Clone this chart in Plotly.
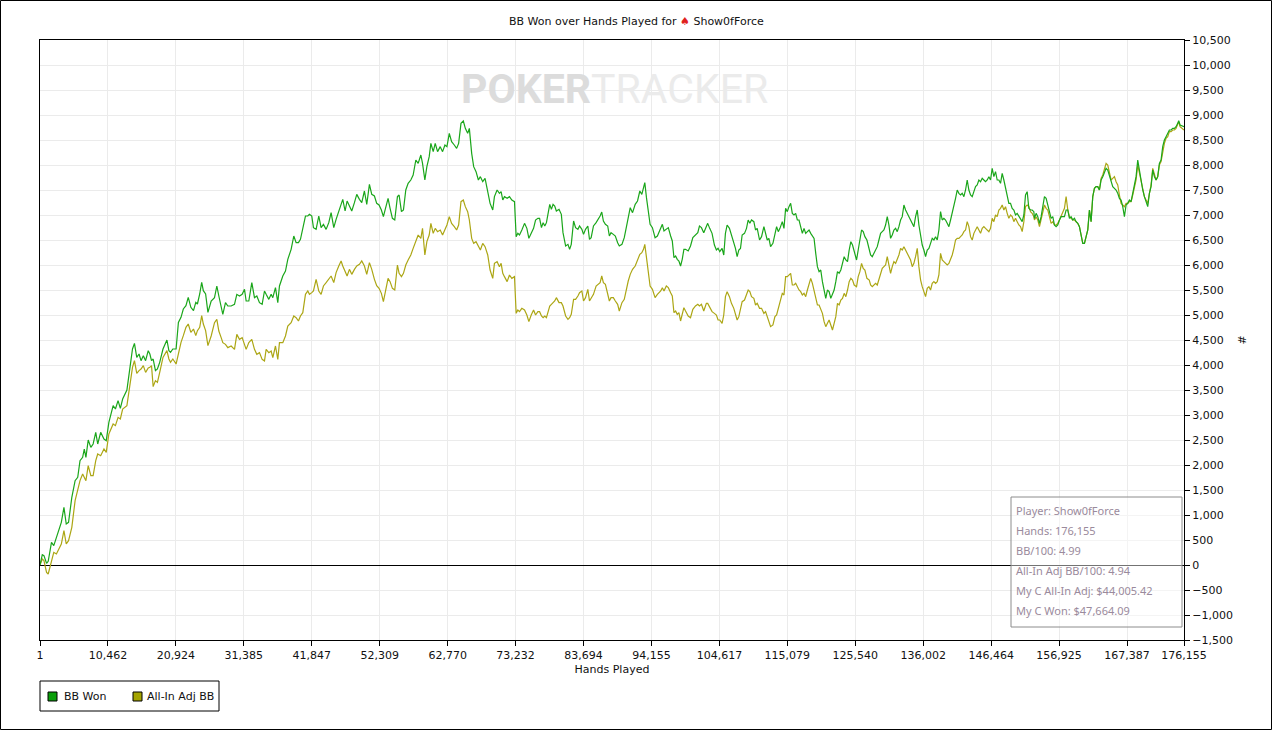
import plotly.graph_objects as go

# ---------------- data ----------------
HANDS = [
    1, 355, 607, 1011, 1264, 1769, 2122, 2526, 3284, 3688, 4041, 4395, 4900, 5405, 5809, 6162, 6566, 6819, 7071, 7425,
    7829, 8182, 8586, 8889, 9344, 9849, 10202, 10606, 11263, 11616, 12020, 12374, 12727, 13384, 13889, 14242, 14545, 14899, 15252, 15555,
    15909, 16262, 16666, 16919, 17171, 17424, 17777, 18080, 18434, 18939, 19545, 19848, 20100, 20454, 20959, 21312, 21716, 22070, 22474, 22827,
    23231, 23635, 23989, 24241, 24595, 24898, 25150, 25504, 25857,
    26358, 26871, 27230, 27537, 27897, 28153, 28563, 28923, 29436, 29949, 30308, 30718, 31129, 31488, 31744, 32155, 32616, 33027, 33386, 33796,
    34207, 34566, 34822, 35233, 35592, 35848, 36259, 36618, 36874, 37387, 37798, 38157, 38670, 39080, 39439, 39798, 40106, 40465, 40876, 41235,
    41491, 41850, 42107, 42517, 42928, 43287, 43646, 44056, 44467, 44826, 45236, 45595, 46006, 46365, 46621, 46980, 47288, 47647, 48006, 48417,
    48776, 49186, 49545, 49956, 50315, 50725, 51084, 51495,
    51846, 52206, 52567, 52876, 53236, 53597, 53906, 54266, 54627, 55039, 55296, 55657, 55966, 56326, 56687, 57099, 57459, 57871, 58232, 58644,
    58901, 59262, 59571, 59931, 60189, 60549, 60858, 61219, 61631, 61991, 62352, 62661, 63021, 63382, 63794, 64154, 64463, 64824, 65184, 65493,
    65854, 66111, 66472, 66781, 67141, 67502, 67811, 68171, 68532, 68944, 69304, 69716, 69974, 70386, 70746, 71004, 71261, 71519, 71931, 72291,
    72652, 73064, 73321, 73579, 73836, 74197, 74609, 74969, 75278, 75639, 75999, 76308, 76669, 76926,
    77217, 77472, 77727, 77982, 78237, 78492, 78747, 79002, 79257, 79512, 79920, 80277, 80532, 80940, 81297, 81552, 81807, 82164, 82470, 82827,
    83082, 83439, 83694, 84000, 84357, 84612, 84867, 85224, 85632, 85989, 86244, 86499, 86754, 87060, 87417, 87672, 87927, 88284, 88590, 88947,
    89202, 89610, 89967, 90222, 90579, 90885, 91242, 91650, 92007, 92364, 92670, 92925, 93129, 93384, 93690, 93945, 94302, 94710, 95067, 95322,
    95577, 95832, 96087, 96444, 96750, 97107, 97362, 97617, 97872, 98127, 98382, 98637, 98892, 99147, 99402, 99810, 100167, 100524, 100932, 101289,
    101544, 101850, 102207,
    102609, 102814, 103124, 103484, 103845, 104153, 104411, 104669, 105029, 105287, 105544, 105802, 106162, 106471, 106832, 107089, 107347, 107604, 107862, 108119,
    108480, 108789, 109046, 109304, 109561, 109922, 110179, 110437, 110797, 111106, 111467, 111724, 111982, 112239, 112497, 112857, 113166, 113424, 113681, 113939,
    114299, 114557, 114814, 115072, 115329, 115587, 115844, 116102, 116359, 116617, 116874, 117132, 117389, 117647, 117904, 118162, 118419, 118677, 118934, 119192,
    119449, 119707, 119964, 120222, 120479, 120737, 120994, 121252, 121509, 121767, 122024, 122282, 122539, 122797, 123054, 123312, 123569, 123827, 124084, 124342,
    124599, 124857, 125114, 125372, 125732, 125990, 126247, 126505, 126762, 127020, 127329, 127689,
    127897, 128153, 128410, 128666, 128923, 129179, 129436, 129692, 129949, 130205, 130462, 130718, 130975, 131231, 131488, 131744, 132001, 132257, 132514, 132770,
    133027, 133283, 133540, 133796, 134053, 134309, 134566, 134822, 135079, 135335, 135592, 135848, 136105, 136361, 136618, 136874, 137131, 137387, 137644, 137900,
    138157, 138413, 138670, 138926, 139183, 139439, 139696, 139952, 140209, 140465, 140722, 140978, 141235, 141491, 141748, 142004, 142261, 142517, 142774, 143030,
    143287, 143543, 143800, 144056, 144313, 144569, 144826, 145082, 145339, 145595, 145852, 146108, 146365, 146621, 146878, 147134, 147391, 147647, 147904, 148160,
    148417, 148673, 148930, 149186, 149443, 149699, 149956, 150212, 150469, 150725, 150982, 151238, 151495, 151751, 152008, 152264, 152521, 152777, 153034,
    153129, 153385, 153642, 153898, 154155, 154411, 154668, 154924, 155181, 155437, 155694, 155950, 156207, 156463, 156720, 156976, 157233, 157489, 157746, 158002,
    158259, 158515, 158772, 159028, 159285, 159541, 159798, 160054, 160311, 160567, 160824, 161080, 161337, 161593, 161850, 162106, 162363, 162619, 162876, 163132,
    163389, 163645, 163902, 164158, 164415, 164671, 164928, 165184, 165441, 165697, 165954, 166210, 166467, 166723, 166980, 167236, 167493, 167749, 168006, 168262,
    168519, 168775, 169032, 169288, 169545, 169801, 170058, 170314, 170571, 170827, 171084, 171340, 171597, 171853, 172110, 172366, 172623, 172879, 173136, 173392,
    173649, 173905, 174162, 174418, 174675, 174931, 175188, 175342, 175547, 176155,
]

BB_WON = [
    0, 207, 187, 33, 73, 453, 387, 553, 853, 1153, 820, 853, 1353, 1687, 1753, 2087, 2153, 2320, 2153, 2500,
    2353, 2420, 2653, 2420, 2653, 2520, 2487, 2853, 3187, 3120, 3287, 3133, 3320, 3500, 4020, 4320, 4433, 4153, 4220, 4087,
    4187, 4087, 4287, 4220, 4087, 4120, 3887, 3920, 4053, 4320, 4500, 4287, 4253, 4320, 4320, 4853, 4953, 5120, 5187, 5353,
    5153, 5087, 5253, 5220, 5420, 5653, 5487, 5420, 5053,
    5280, 5347, 5580, 5380, 5147, 5013, 5247, 5180, 5180, 5213, 5413, 5380, 5413, 5513, 5280, 5280, 5647, 5347, 5380, 5247,
    5213, 5480, 5413, 5313, 5413, 5347, 5547, 5247, 5580, 5780, 5880, 6113, 6313, 6580, 6447, 6447, 6513, 6713, 6980, 6980,
    7013, 6980, 6747, 6713, 6980, 6747, 6813, 6713, 6847, 7047, 6747, 6913, 7080, 7213, 7313, 7080, 7280, 7180, 7080, 7247,
    7413, 7313, 7247, 7480, 7213, 7613, 7413, 7380,
    7233, 7200, 7100, 6967, 7167, 7333, 7133, 6933, 6900, 7367, 7400, 7067, 7100, 7500, 7633, 7700, 7800, 8100, 8033, 8200,
    8033, 7700, 7967, 8167, 8433, 8267, 8433, 8267, 8367, 8267, 8400, 8367, 8633, 8467, 8400, 8333, 8433, 8833, 8880, 8733,
    8633, 8733, 8233, 7967, 7867, 7700, 7767, 7667, 7733, 7500, 7233, 7100, 7367, 7500, 7433, 7467, 7300, 7367, 7333, 7367,
    7300, 7267, 6567, 6633, 6600, 6700, 6833, 6733, 6533, 6633, 6733, 6900, 6933, 6933,
    6747, 6847, 6780, 6847, 7047, 7213, 7113, 7213, 7180, 7080, 7113, 7013, 6647, 6380, 6413, 6313, 6413, 6880, 6747, 6713,
    6780, 6713, 6613, 6713, 6780, 6513, 6547, 6780, 6847, 6913, 6980, 7060, 6880, 6813, 6780, 6580, 6647, 6613, 6580, 6447,
    6380, 6413, 6547, 6713, 6947, 7147, 7047, 7213, 7280, 7480, 7413, 7547, 7647, 7347, 7047, 6813, 6747, 6547, 6580, 6647,
    6713, 6813, 6680, 6713, 6747, 6580, 6480, 6147, 6180, 6113, 6080, 5980, 6113, 6313, 6313, 6280, 6380, 6547, 6613, 6647,
    6780, 6747, 6647,
    6800, 6833, 6733, 6633, 6400, 6300, 6333, 6267, 6333, 6200, 6633, 6800, 6733, 6600, 6467, 6333, 6167, 6300, 6333, 6600,
    6633, 6733, 6900, 6833, 6900, 6867, 6700, 6733, 6500, 6567, 6767, 6633, 6500, 6533, 6367, 6433, 6600, 6767, 6667, 6733,
    6867, 6733, 7133, 7067, 7167, 7233, 7033, 7000, 7033, 6900, 6900, 6733, 6633, 6733, 6633, 6667, 6700, 6633, 6567, 6533,
    6233, 5967, 5867, 5900, 5667, 5500, 5333, 5500, 5467, 5333, 5400, 5500, 5667, 5867, 5833, 5900, 6033, 6167, 6100, 6067,
    6300, 6467, 6400, 6267, 6100, 6300, 6500, 6700, 6667, 6567, 6500, 6267,
    6200, 6167, 6233, 6300, 6367, 6500, 6633, 6667, 6700, 6800, 6967, 6800, 6533, 6600, 6700, 6733, 6667, 6767, 6900, 6967,
    7200, 7100, 7033, 6967, 6900, 6833, 6767, 6967, 7100, 6800, 6600, 6400, 6300, 6167, 6300, 6333, 6433, 6533, 6500, 6567,
    6500, 6700, 7067, 6900, 6933, 6900, 6833, 6767, 6900, 7033, 7200, 7333, 7500, 7433, 7400, 7433, 7367, 7500, 7700, 7500,
    7400, 7367, 7467, 7567, 7600, 7700, 7667, 7733, 7700, 7667, 7700, 7767, 7700, 7933, 7767, 7867, 7700, 7700, 7633, 7833,
    7700, 7533, 7400, 7233, 7233, 7133, 7100, 7000, 7033, 6967, 6933, 6867, 7000, 7400, 7467, 7133, 7100, 7100, 7067,
    6933, 7033, 6967, 6833, 6967, 7167, 7367, 7333, 7200, 7100, 6933, 6967, 6800, 6767, 6800, 6900, 6967, 6967, 6967, 7100,
    7100, 6933, 6967, 6900, 6933, 6867, 6833, 6767, 6567, 6433, 6433, 6600, 6700, 7100, 6867, 7367, 7533, 7567, 7567, 7500,
    7700, 7767, 7867, 7933, 7900, 7800, 7667, 7567, 7533, 7500, 7433, 7333, 7300, 7167, 6967, 7200, 7233, 7300, 7267, 7433,
    7567, 7767, 8100, 7900, 7667, 7500, 7367, 7267, 7167, 7433, 7567, 7900, 7767, 7700, 7767, 8033, 8100, 8367, 8500, 8567,
    8633, 8700, 8700, 8733, 8733, 8767, 8833, 8887, 8800, 8767,
]

ALLIN_ADJ_BB = [
    0, 120, 87, -147, -180, 53, 253, 220, 420, 687, 420, 487, 753, 1287, 1487, 1687, 1820, 1753, 1687, 1987,
    1787, 1787, 2087, 2220, 2187, 2320, 2253, 2620, 2820, 2787, 2953, 2920, 3120, 3187, 3687, 3953, 4087, 3833, 3887, 3920,
    3987, 3853, 3940, 3953, 3987, 3567, 3687, 3653, 3853, 4153, 4287, 4120, 4053, 4120, 4020, 4253, 4453, 4587, 4753, 4820,
    4653, 4720, 4587, 4687, 4753, 4987, 4820, 4687, 4387,
    4580, 4847, 4913, 4680, 4547, 4447, 4413, 4347, 4380, 4313, 4613, 4513, 4547, 4413, 4313, 4447, 4513, 4313, 4213, 4247,
    4113, 4080, 4313, 4247, 4280, 4147, 4380, 4113, 4447, 4447, 4580, 4780, 4847, 4980, 4947, 4880, 4980, 5047, 5413, 5480,
    5413, 5447, 5480, 5713, 5480, 5413, 5580, 5647, 5713, 5780, 5647, 5847, 5980, 6080, 5980, 5880, 5780, 5913, 5813, 5913,
    5980, 6013, 6080, 5980, 5813, 6047, 5913, 5713,
    5587, 5533, 5433, 5267, 5500, 5733, 5667, 5533, 5500, 6000, 5833, 5767, 5833, 6000, 6100, 6200, 6333, 6467, 6600, 6533,
    6733, 6200, 6467, 6600, 6833, 6633, 6733, 6667, 6700, 6600, 6700, 6800, 6967, 6833, 6767, 6700, 6800, 7267, 7300, 7167,
    7067, 6900, 6533, 6433, 6467, 6367, 6300, 6433, 6367, 6200, 5900, 5733, 6033, 6067, 5967, 6033, 5833, 5767, 5667, 5800,
    5733, 5767, 5033, 5100, 5067, 5133, 5100, 5000, 4867, 5000, 5100, 5000, 5067, 5067,
    4980, 4947, 4980, 4947, 5080, 5180, 5213, 5247, 5280, 5347, 5247, 5247, 5180, 4980, 4913, 4947, 5013, 5313, 5313, 5380,
    5447, 5480, 5280, 5347, 5513, 5280, 5347, 5413, 5580, 5613, 5647, 5780, 5647, 5613, 5447, 5280, 5347, 5347, 5280, 5213,
    5080, 5247, 5313, 5480, 5680, 5813, 5913, 5980, 6080, 6213, 6247, 6313, 6413, 6113, 5780, 5580, 5513, 5347, 5413, 5447,
    5480, 5547, 5480, 5580, 5547, 5447, 5380, 5047, 5080, 5013, 5047, 4880, 5013, 5147, 5080, 4980, 4947, 5113, 5180, 5213,
    5180, 5213, 5080,
    5233, 5233, 5167, 5067, 5033, 5000, 4900, 4900, 4833, 5000, 5367, 5467, 5367, 5233, 5133, 5000, 4900, 4967, 5100, 5267,
    5300, 5433, 5500, 5467, 5367, 5333, 5200, 5233, 5133, 5133, 5033, 5067, 4967, 4867, 4767, 4800, 4967, 5000, 5133, 5267,
    5433, 5400, 5767, 5767, 5800, 5833, 5600, 5600, 5633, 5567, 5500, 5467, 5400, 5433, 5367, 5500, 5633, 5733, 5633, 5467,
    5333, 5200, 5200, 5100, 5033, 4867, 4767, 4833, 4900, 4800, 4700, 4833, 4967, 5233, 5200, 5300, 5333, 5433, 5367, 5500,
    5667, 5733, 5700, 5600, 5567, 5767, 5867, 6033, 5933, 5900, 5733, 5700,
    5600, 5567, 5600, 5633, 5600, 5700, 5833, 5933, 5967, 6000, 6167, 5967, 5833, 5967, 6067, 6033, 6100, 6200, 6333, 6300,
    6367, 6300, 6233, 6167, 6100, 5967, 6033, 6167, 6333, 5967, 5700, 5567, 5467, 5367, 5533, 5567, 5500, 5633, 5667, 5633,
    5667, 5800, 6233, 6100, 6067, 6033, 6000, 6033, 6100, 6200, 6333, 6500, 6533, 6533, 6567, 6600, 6667, 6700, 6867, 6767,
    6567, 6500, 6633, 6700, 6767, 6700, 6633, 6733, 6767, 6733, 6700, 6667, 6733, 6933, 6867, 7000, 6967, 7100, 7133, 7200,
    7100, 7167, 7033, 6933, 7000, 6967, 6867, 6933, 6867, 6800, 6767, 6667, 6867, 7167, 7200, 7167, 7067, 7033, 6967,
    6900, 6967, 6900, 6767, 6933, 7100, 7200, 7133, 7100, 6967, 6833, 6867, 6800, 6800, 6833, 6900, 6967, 7033, 7133, 7367,
    7100, 6967, 6933, 6900, 6900, 6867, 6833, 6767, 6567, 6433, 6433, 6600, 6700, 7100, 6867, 7367, 7533, 7567, 7567, 7500,
    7733, 7800, 7900, 8033, 8000, 7833, 7700, 7733, 7767, 7667, 7600, 7400, 7233, 7200, 7167, 7233, 7233, 7267, 7267, 7400,
    7533, 7700, 8000, 7833, 7633, 7467, 7367, 7300, 7233, 7433, 7600, 7933, 7800, 7700, 7767, 8000, 8067, 8300, 8433, 8533,
    8567, 8667, 8667, 8700, 8700, 8733, 8800, 8867, 8767, 8700,
]

X_TICKS = [1, 10462, 20924, 31385, 41847, 52309, 62770, 73232, 83694, 94155, 104617,
           115079, 125540, 136002, 146464, 156925, 167387, 176155]
X_TICK_LABELS = ["1", "10,462", "20,924", "31,385", "41,847", "52,309", "62,770", "73,232",
                 "83,694", "94,155", "104,617", "115,079", "125,540", "136,002", "146,464",
                 "156,925", "167,387", "176,155"]

SERIES_NAMES = ["BB Won", "All-In Adj BB"]
INFO_LINES = ["Player: Show0fForce", "Hands: 176,155", "BB/100: 4.99",
              "All-In Adj BB/100: 4.94", "My C All-In Adj: $44,005.42", "My C Won: $47,664.09"]

# ---------------- styling ----------------
GREEN = "#1aa61a"
OLIVE = "#aca614"
FONT = "DejaVu Sans"
W, H = 1272, 730
L, R, T, B = 40, 88, 40, 90
PW, PH = W - L - R, H - T - B


def px(x):  # pixel -> paper x
    return (x - L) / PW


def py(y):  # pixel -> paper y
    return (H - B - y) / PH


fig = go.Figure()
fig.add_trace(go.Scatter(x=HANDS, y=ALLIN_ADJ_BB, mode="lines", name=SERIES_NAMES[1],
                         line=dict(color=OLIVE, width=1.2), hoverinfo="skip"))
fig.add_trace(go.Scatter(x=HANDS, y=BB_WON, mode="lines", name=SERIES_NAMES[0],
                         line=dict(color=GREEN, width=1.2), hoverinfo="skip"))

shapes = []
annotations = []

# outer frame
shapes.append(dict(type="rect", xref="paper", yref="paper",
                   x0=px(0.5), x1=px(W - 0.5), y0=py(0.5), y1=py(H - 0.5),
                   line=dict(color="black", width=1), fillcolor="rgba(0,0,0,0)", layer="above"))

# title
annotations.append(dict(xref="paper", yref="paper", x=px(636), y=py(22), xanchor="center", yanchor="middle",
                        showarrow=False,
                        text="BB Won over Hands Played for <span style='color:#e0201c'>♠</span> Show0fForce",
                        font=dict(family=FONT, size=11, color="#111")))

# watermark
annotations.append(dict(xref="paper", yref="paper", x=px(614), y=py(89), xanchor="center", yanchor="middle",
                        showarrow=False,
                        text="<b><span style='color:#dcdcdc'>POKER</span></b><span style='color:#ebebeb'>TRACKER</span>",
                        font=dict(family="Roboto", size=41, color="#e6e6e6")))

# info box
shapes.append(dict(type="rect", xref="paper", yref="paper",
                   x0=px(1011), x1=px(1182), y0=py(497), y1=py(627),
                   line=dict(color="#8c8c8c", width=1), fillcolor="rgba(255,255,255,0.45)", layer="above"))
for i, line in enumerate(INFO_LINES):
    annotations.append(dict(xref="paper", yref="paper", x=px(1014), y=py(510 + 20 * i),
                            xanchor="left", yanchor="middle", showarrow=False, text=line,
                            font=dict(family="Noto Sans", size=11, color="#9a8a9c")))

# legend (drawn)
shapes.append(dict(type="rect", xref="paper", yref="paper",
                   x0=px(40), x1=px(219), y0=py(681), y1=py(711),
                   line=dict(color="black", width=1), fillcolor="white"))
for sx, tx, col, name in [(48, 62, "#0a9e0a", SERIES_NAMES[0]), (133, 145, "#a4a400", SERIES_NAMES[1])]:
    shapes.append(dict(type="rect", xref="paper", yref="paper",
                       x0=px(sx), x1=px(sx + 9), y0=py(692), y1=py(701),
                       line=dict(color="black", width=1), fillcolor=col))
    annotations.append(dict(xref="paper", yref="paper", x=px(tx), y=py(696.5), xanchor="left",
                            yanchor="middle", showarrow=False, text=name,
                            font=dict(family=FONT, size=11, color="#111")))

fig.update_layout(
    width=W, height=H,
    margin=dict(l=L, r=R, t=T, b=B, autoexpand=False),
    paper_bgcolor="white", plot_bgcolor="white",
    showlegend=False,
    shapes=shapes, annotations=annotations,
    font=dict(family=FONT, size=11, color="#111"),
)
fig.update_xaxes(
    range=[1, 176155], tickmode="array", tickvals=X_TICKS, ticktext=X_TICK_LABELS,
    showgrid=True, gridcolor="#ebebeb", gridwidth=1,
    showline=True, linecolor="black", linewidth=1, mirror=True,
    ticks="outside", ticklen=5, tickcolor="black",
    zeroline=False,
    title=dict(text="Hands Played", standoff=4, font=dict(family=FONT, size=11)),
    tickfont=dict(family=FONT, size=11),
)
fig.update_yaxes(
    range=[-1500, 10500], dtick=500, tick0=0, tickformat=",", side="right",
    showgrid=True, gridcolor="#ebebeb", gridwidth=1,
    showline=True, linecolor="black", linewidth=1, mirror=True,
    ticks="outside", ticklen=5, tickcolor="black",
    zeroline=True, zerolinecolor="black", zerolinewidth=1,
    title=dict(text="#", standoff=6, font=dict(family=FONT, size=11)),
    tickfont=dict(family=FONT, size=11),
)

fig.write_html(
    "out.html",
    config={"displayModeBar": False},
    post_script="document.body.style.margin='0';document.body.style.overflow='hidden';",
)
